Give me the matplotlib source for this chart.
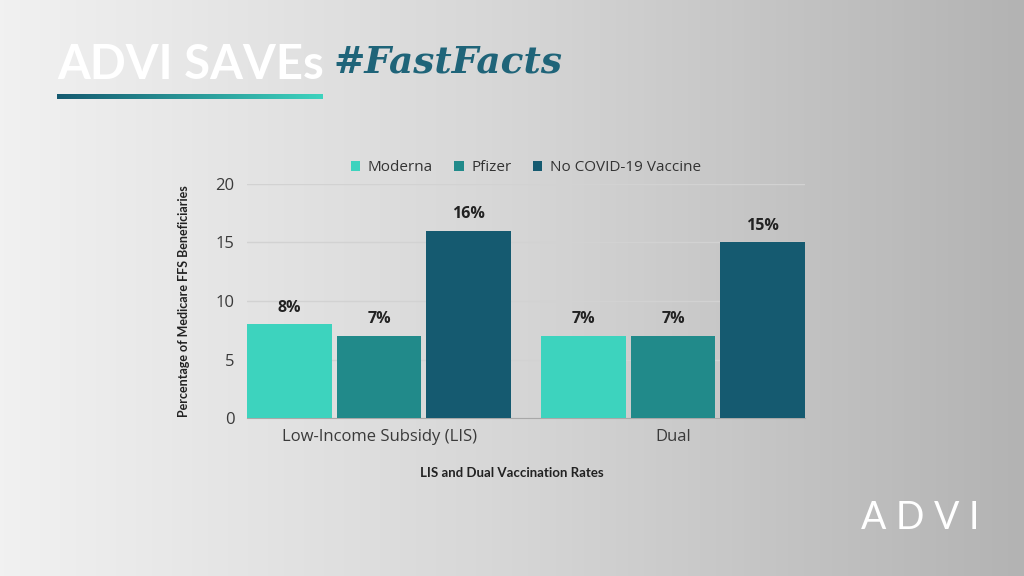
import numpy as np
import matplotlib
matplotlib.use("Agg")
import matplotlib.pyplot as plt
from matplotlib.colors import LinearSegmentedColormap

# ─────────────────────────────────────
# DATA
# ─────────────────────────────────────
groups   = ["Low-Income Subsidy (LIS)", "Dual"]
series   = ["Moderna", "Pfizer", "No COVID-19 Vaccine"]
moderna  = [8, 7]
pfizer   = [7, 7]
no_vax   = [16, 15]
values   = [moderna, pfizer, no_vax]
colors   = ["#3dd3be", "#218a8a", "#155a70"]
yticks   = [0, 5, 10, 15, 20]

plt.rcParams["font.family"] = ["Open Sans", "DejaVu Sans"]

fig = plt.figure(figsize=(10.24, 5.76), dpi=100)

# background gradient
bg = fig.add_axes([0, 0, 1, 1], zorder=-10)
grad = np.linspace(0, 1, 256).reshape(1, -1)
bg_cmap = LinearSegmentedColormap.from_list("bg", ["#f1f1f1", "#d6d6d6", "#b3b3b3"])
bg.imshow(grad, aspect="auto", cmap=bg_cmap, extent=[0, 1, 0, 1])
bg.set_xlim(0, 1)
bg.set_ylim(0, 1)
bg.axis("off")

# title underline gradient
line_cmap = LinearSegmentedColormap.from_list("ln", ["#155a70", "#3dd3be"])
bg.imshow(grad, aspect="auto", cmap=line_cmap,
          extent=[57 / 1024, 323 / 1024, 1 - 99 / 576, 1 - 94 / 576], zorder=2)

fig.text(57 / 1024, 1 - 65 / 576, "ADVI SAVEs", color="white", fontsize=34,
         fontweight="bold", va="center", ha="left", family="Lato")
fig.text(333 / 1024, 1 - 62 / 576, "#FastFacts", color="#1f6479", fontsize=27,
         fontweight="bold", style="italic", va="center", ha="left", family="DejaVu Serif")
fig.text(920 / 1024, 1 - 518 / 576, "A D V I", color="white", fontsize=27,
         va="center", ha="center", family="Lato")

# ─────────────────────────────────────
# CHART
# ─────────────────────────────────────
ax = fig.add_axes([247 / 1024, 1 - 418 / 576, 558 / 1024, 234 / 576])
ax.set_facecolor("none")

x = np.arange(len(groups))
width = 0.289
step  = 0.306

for i, (name, vals, c) in enumerate(zip(series, values, colors)):
    pos = x + (i - 1) * step
    bars = ax.bar(pos, vals, width, color=c, label=name, zorder=3)
    for b, v in zip(bars, vals):
        ax.text(b.get_x() + b.get_width() / 2, v + 0.75, f"{v}%", ha="center", va="bottom",
                fontsize=11.5, fontweight="bold", color="#222222")

ax.set_xlim(-0.449, 1.449)
ax.set_ylim(0, 20)
ax.set_yticks(yticks)
ax.set_xticks(x)
ax.set_xticklabels(groups)
ax.tick_params(axis="y", length=0, labelsize=12, colors="#3a3a3a", pad=9)
ax.tick_params(axis="x", length=0, labelsize=12, colors="#3a3a3a", pad=8)
ax.grid(axis="y", color="#d2d2d2", linewidth=1, zorder=0)
for s in ["top", "right", "left"]:
    ax.spines[s].set_visible(False)
ax.spines["bottom"].set_color("#a8a8a8")

ax.set_ylabel("Percentage of Medicare FFS Beneficiaries", fontsize=9, fontweight="bold",
              color="#222222", labelpad=18, family="Lato")
fig.text(512 / 1024, 1 - 473 / 576, "LIS and Dual Vaccination Rates", fontsize=9.5,
         fontweight="bold", color="#222222", ha="center", va="center", family="Lato")

ax.legend(loc="center", bbox_to_anchor=(0.5, 1.07), ncol=3, frameon=False,
          fontsize=11, handlelength=0.6, handleheight=0.6, columnspacing=1.4,
          handletextpad=0.5, labelcolor="#333333")

plt.savefig("out.png", dpi=100)
